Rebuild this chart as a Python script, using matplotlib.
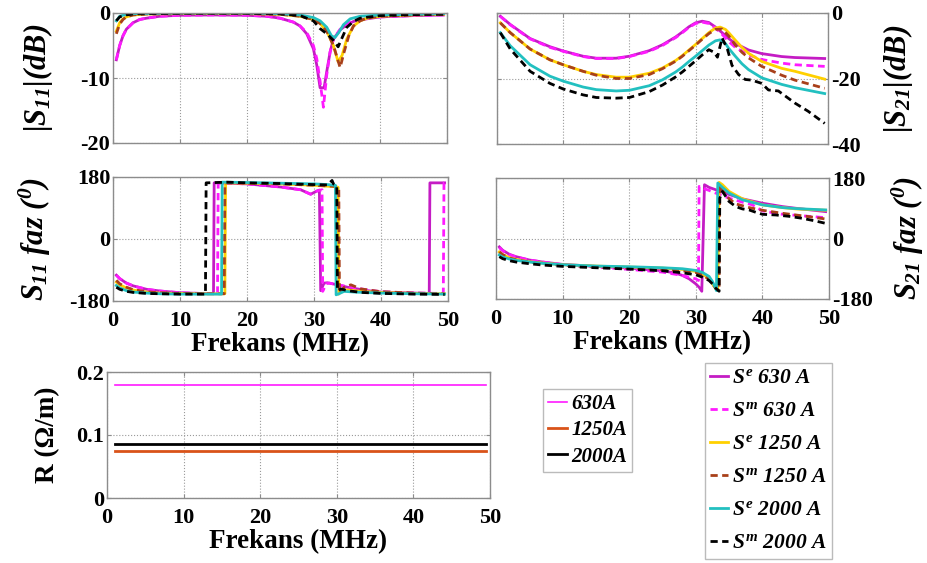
import matplotlib
matplotlib.use("Agg")
import matplotlib.pyplot as plt

plt.rcParams['font.family'] = ['Liberation Serif', 'DejaVu Serif']
plt.rcParams['font.weight'] = 'bold'
plt.rcParams['mathtext.fontset'] = 'custom'
plt.rcParams['mathtext.rm'] = 'Liberation Serif:italic:bold'
plt.rcParams['mathtext.it'] = 'Liberation Serif:italic:bold'
plt.rcParams['mathtext.bf'] = 'Liberation Serif:italic:bold'
plt.rcParams['axes.unicode_minus'] = False

# ---- |S11| (dB) ----
s11_pe_f = [0.5, 1, 1.5, 2, 3, 4, 5, 7, 10, 15, 20, 23, 25, 27, 28, 29, 30, 30.5, 31, 31.6, 32, 32.5, 33, 34, 35, 36, 38, 40, 45, 49.5]
s11_pe = [-7.2, -5, -3.5, -2.5, -1.5, -1.0, -0.8, -0.5, -0.35, -0.3, -0.35, -0.5, -0.8, -1.4, -2.0, -3.2, -5.5, -8, -11.5, -11.5, -9, -6, -4, -2.6, -1.8, -1.3, -0.9, -0.6, -0.4, -0.3]
s11_pm_f = [0.5, 1, 1.5, 2, 3, 4, 5, 7, 10, 15, 20, 23, 25, 27, 28, 29, 30, 30.5, 31, 31.5, 32, 32.5, 33, 34, 35, 36, 38, 40, 45, 49.5]
s11_pm = [-7.2, -5, -3.5, -2.5, -1.5, -1, -0.8, -0.5, -0.35, -0.3, -0.35, -0.5, -0.8, -1.4, -2, -3, -5, -7, -10.5, -14.5, -9.5, -6, -4, -2.5, -1.7, -1.2, -0.8, -0.6, -0.4, -0.3]
s11_ye_f = [0.5, 1, 1.5, 2, 3, 5, 10, 20, 25, 28, 30, 31, 32, 33, 33.7, 34.3, 35, 36, 37, 38, 40, 45, 49.5]
s11_ye = [-2.8, -1.5, -0.9, -0.6, -0.3, -0.15, -0.1, -0.1, -0.2, -0.5, -1, -1.6, -2.8, -5, -7.5, -6.5, -4, -2, -1.2, -0.8, -0.5, -0.3, -0.2]
s11_bm_f = [0.5, 1, 1.5, 2, 3, 5, 10, 20, 25, 28, 30, 31, 32, 33, 34, 34.6, 35.3, 36, 37, 38, 40, 45, 49.5]
s11_bm = [-3.2, -1.7, -1, -0.6, -0.3, -0.15, -0.1, -0.1, -0.2, -0.5, -1, -1.6, -2.8, -5, -8.4, -6, -3.5, -2, -1.2, -0.8, -0.5, -0.3, -0.2]
s11_ce_f = [0.5, 1, 2, 3, 10, 20, 25, 28, 30, 31, 32, 32.7, 33.2, 33.8, 34.5, 35.5, 37, 40, 45, 49.5]
s11_ce = [-1.2, -0.5, -0.2, -0.1, 0, 0, -0.1, -0.3, -0.7, -1.2, -2.2, -3.5, -3.8, -3, -1.8, -0.9, -0.5, -0.3, -0.2, -0.1]
s11_km_f = [0.5, 1, 2, 3, 10, 20, 25, 28, 30, 31, 32, 33, 33.7, 34.3, 35, 36, 37, 40, 45, 49.5]
s11_km = [-1.2, -0.6, -0.3, -0.15, -0.05, -0.05, -0.15, -0.4, -1.2, -2.4, -3.2, -4.2, -5.2, -3.8, -2.2, -1.3, -0.8, -0.4, -0.25, -0.2]

# ---- |S21| (dB) ----
s21_pe_f = [0.5, 2, 5, 8, 10, 13, 15, 18, 20, 23, 25, 27, 28, 29, 30, 31, 32, 33, 34, 35, 36, 38, 40, 43, 45, 49.5]
s21_pe = [-1, -3.5, -7.8, -10.3, -11.6, -13.2, -13.8, -13.8, -13.2, -11.5, -9.7, -7.3, -5.8, -4.2, -3.0, -2.5, -2.9, -4.3, -6, -7.8, -9.3, -11.3, -12.4, -13.3, -13.6, -13.9]
s21_pm_f = [0.5, 2, 5, 8, 10, 13, 15, 18, 20, 23, 25, 27, 28, 29, 30, 31, 32, 33, 34, 35, 36, 38, 40, 43, 45, 49.5]
s21_pm = [-1, -3.6, -7.9, -10.5, -11.7, -13.3, -13.9, -13.9, -13.3, -11.7, -9.9, -7.5, -6.0, -4.4, -3.2, -2.8, -3.2, -4.6, -6.5, -8.7, -10.5, -12.8, -14.2, -15.3, -15.8, -16.3]
s21_ye_f = [0.5, 2, 5, 8, 10, 13, 15, 18, 20, 23, 25, 27, 28, 29, 30, 31, 32, 33, 33.7, 34.5, 35, 36, 37, 38, 40, 43, 45, 49.5]
s21_ye = [-3, -6, -11, -14.3, -15.8, -17.8, -18.8, -19.6, -19.6, -18.4, -16.8, -14.5, -13, -11.3, -9.6, -7.8, -6, -4.6, -4.3, -5, -6, -8.3, -10.5, -12.3, -14.8, -16.9, -17.8, -20.2]
s21_bm_f = [0.5, 2, 5, 8, 10, 13, 15, 18, 20, 23, 25, 27, 28, 29, 30, 31, 32, 33, 34, 35, 36, 37, 38, 40, 43, 45, 49.5]
s21_bm = [-3, -6, -11, -14.3, -15.8, -17.8, -19, -20, -20, -18.8, -17, -14.7, -13.2, -11.5, -9.8, -8, -6.3, -5, -4.9, -7, -9.8, -12, -13.7, -16.3, -19, -20.5, -23]
s21_ce_f = [0.5, 2, 5, 8, 10, 13, 15, 18, 20, 23, 25, 27, 28, 29, 30, 31, 32, 33, 33.7, 34.5, 35, 36, 37, 38, 40, 43, 45, 49.5]
s21_ce = [-6, -10, -15.8, -19.3, -20.8, -22.6, -23.4, -23.8, -23.6, -22.2, -20.4, -18, -16.5, -14.8, -13.2, -11.5, -9.8, -8.5, -8.2, -9.3, -10.8, -13.2, -15.5, -17.3, -19.8, -21.8, -22.8, -24.6]
s21_km_f = [0.5, 2, 5, 8, 10, 13, 15, 18, 20, 23, 25, 27, 28, 29, 30, 31, 32, 32.8, 33.3, 34, 34.8, 35.5, 36.5, 37.5, 38.5, 40, 41, 42.5, 45, 47, 49.5]
s21_km = [-6, -11, -17.8, -21.5, -23.2, -25, -25.8, -26, -25.8, -24, -22, -19.5, -18, -16.3, -14.6, -12.8, -11.2, -12, -13.5, -7.6, -11, -16, -18.8, -20.3, -20.5, -21.5, -23.5, -23.8, -27.5, -30, -33.7]

# ---- S11 phase (deg) ----
p11_pe_f = [0.5, 1, 2, 3, 5, 7, 10, 13, 15, 15.1, 17, 20, 25, 28, 29.5, 30.3, 30.8, 31.0, 31.5, 32, 33, 35, 38, 40, 45, 47.2, 47.3, 49.5]
p11_pe = [-105, -115, -128, -136, -146, -151, -156, -158, -158, 163, 162, 160, 151, 143, 130, 138, 142, -150, -128, -127, -131, -140, -150, -154, -157, -158, 163, 163]
p11_pm_f = [0.5, 1, 2, 3, 5, 7, 10, 13, 15.6, 15.7, 17, 20, 25, 28, 29.5, 30.5, 31.2, 31.3, 31.8, 32.3, 33, 35, 38, 40, 45, 49.3, 49.4, 49.5]
p11_pm = [-105, -115, -128, -136, -146, -151, -156, -158, -158, 163, 162, 160, 151, 143, 130, 140, 143, -152, -130, -128, -131, -138, -148, -153, -157, -158, 163, 163]
p11_ye_f = [0.5, 1, 2, 3, 5, 7, 10, 13, 16.7, 16.8, 20, 25, 30, 33, 33.6, 33.7, 34, 35, 37, 40, 45, 49.5]
p11_ye = [-125, -133, -142, -148, -154, -157, -158, -159, -159, 163, 162, 160, 156, 152, 150, -160, -150, -148, -152, -155, -158, -159]
p11_bm_f = [0.5, 1, 2, 3, 5, 7, 10, 13, 16.6, 16.7, 20, 25, 30, 33, 33.7, 33.8, 34.5, 35.5, 37, 40, 45, 49.5]
p11_bm = [-120, -130, -140, -147, -153, -156, -158, -159, -159, 163, 162, 160, 156, 153, 150, -158, -140, -133, -145, -153, -157, -159]
p11_ce_f = [0.5, 1, 2, 3, 5, 7, 10, 13, 16.2, 16.3, 20, 25, 30, 32, 33.2, 33.3, 33.6, 34.5, 36, 40, 45, 49.5]
p11_ce = [-135, -142, -150, -154, -157, -159, -160, -160, -160, 165, 164, 162, 160, 158, 156, -162, -160, -152, -154, -157, -159, -160]
p11_km_f = [0.5, 1, 2, 3, 5, 7, 10, 12, 13.8, 13.9, 17, 20, 25, 30, 32, 32.7, 32.9, 33.4, 33.5, 34, 35, 37, 40, 45, 49.5]
p11_km = [-140, -146, -152, -155, -158, -159, -160, -160, -160, 163, 165, 163, 161, 158, 157, 170, 160, 155, -150, -145, -150, -155, -158, -160, -161]

# ---- S21 phase (deg) ----
p21_pe_f = [0.5, 1, 2, 3, 5, 7, 10, 15, 20, 25, 27, 28, 29, 30, 30.5, 30.9, 31.3, 32, 33, 35, 37, 40, 43, 45, 49.5]
p21_pe = [-25, -35, -47, -54, -64, -70, -77, -83, -88, -96, -103, -110, -120, -135, -145, -157, 160, 152, 145, 131, 118, 105, 95, 90, 80]
p21_pm_f = [0.5, 1, 2, 3, 5, 7, 10, 15, 20, 25, 28, 29, 30, 30.4, 30.5, 31, 32, 33, 35, 37, 38.5, 40, 43, 45, 49.5]
p21_pm = [-27, -37, -48, -55, -64, -70, -78, -85, -92, -100, -110, -115, -120, -125, 155, 150, 143, 135, 120, 108, 100, 82, 72, 69, 62]
p21_ye_f = [0.5, 1, 2, 3, 5, 7, 10, 15, 20, 25, 28, 30, 31, 32, 32.5, 33, 33.3, 33.5, 34, 35, 37, 40, 43, 45, 49.5]
p21_ye = [-40, -48, -57, -62, -69, -73, -78, -82, -85, -88, -92, -98, -105, -120, -135, -150, -153, 167, 160, 140, 118, 100, 92, 88, 84]
p21_bm_f = [0.5, 1, 2, 3, 5, 7, 10, 15, 20, 25, 28, 30, 31, 32, 32.5, 33, 33.5, 33.6, 34, 35, 36, 38, 40, 43, 45, 47, 49.5]
p21_bm = [-40, -48, -58, -63, -70, -75, -80, -85, -88, -92, -96, -101, -108, -122, -135, -148, -155, 160, 145, 118, 103, 92, 84, 75, 70, 65, 58]
p21_ce_f = [0.5, 1, 2, 3, 5, 7, 10, 15, 20, 25, 28, 30, 31, 32, 32.5, 32.9, 33.1, 33.3, 34, 35, 37, 40, 43, 45, 49.5]
p21_ce = [-49, -55, -61, -65, -70, -74, -78, -82, -84, -87, -90, -95, -101, -113, -128, -145, -155, 165, 152, 135, 115, 100, 92, 89, 85]
p21_km_f = [0.5, 1, 2, 3, 5, 7, 10, 15, 20, 25, 28, 30, 31, 32, 32.5, 33, 33.5, 33.6, 34, 35, 36, 37, 38, 39, 40, 42, 44, 46, 48, 49.5]
p21_km = [-54, -60, -66, -70, -75, -79, -83, -87, -91, -96, -102, -108, -115, -125, -135, -148, -157, 120, 140, 110, 95, 88, 85, 78, 72, 70, 66, 60, 52, 45]

# ---- R ----
r_f = [1, 49.5]
r_630 = [0.18, 0.18]
r_1250 = [0.074, 0.074]
r_2000 = [0.085, 0.085]

labels_S = [r'$S^e$ 630 A', r'$S^m$ 630 A', r'$S^e$ 1250 A', r'$S^m$ 1250 A', r'$S^e$ 2000 A', r'$S^m$ 2000 A']
labels_R = ['630A', '1250A', '2000A']

c_purple = '#c41cc4'
c_mag = '#ff1aff'
c_gold = '#ffd000'
c_brown = '#a8401a'
c_cyan = '#22c0c0'
c_black = '#000000'
c_orange = '#d95319'

styles = [(c_purple, '-'), (c_mag, '--'), (c_gold, '-'), (c_brown, '--'), (c_cyan, '-'), (c_black, '--')]

W, H = 927, 563
fig = plt.figure(figsize=(W / 100, H / 100), dpi=100)


def px_axes(x0, y0, x1, y1):
    return fig.add_axes([x0 / W, 1 - y1 / H, (x1 - x0) / W, (y1 - y0) / H])


def style_ax(ax):
    for sp in ax.spines.values():
        sp.set_color('#8c8c8c')
        sp.set_linewidth(1)
    ax.grid(True, linestyle=':', color='#9a9a9a', linewidth=0.8)
    ax.tick_params(direction='in', length=3, labelsize=16, color='#8c8c8c',
                   top=True, right=True, pad=2)
    ax.tick_params(axis='x', pad=7)
    ax.set_xlim(0, 50)
    ax.set_xticks([0, 10, 20, 30, 40, 50])


def draw(ax, series):
    lines = []
    for (f, v), (c, ls) in zip(series, styles):
        if ls == '--':
            ln, = ax.plot(f, v, color=c, lw=2, dashes=(2.6, 1.6))
        else:
            ln, = ax.plot(f, v, color=c, lw=2)
        lines.append(ln)
    return lines


lab_font = dict(fontsize=22, fontstyle='italic', fontweight='bold')
xl_font = dict(fontsize=19.5, fontweight='bold')

# top left
ax1 = px_axes(113, 13, 447, 143)
style_ax(ax1)
s_lines = draw(ax1, [(s11_pe_f, s11_pe), (s11_pm_f, s11_pm), (s11_ye_f, s11_ye),
                     (s11_bm_f, s11_bm), (s11_ce_f, s11_ce), (s11_km_f, s11_km)])
ax1.set_ylim(-20, 0)
ax1.set_yticks([-20, -10, 0])
ax1.set_xticklabels([])
ax1.set_ylabel(r'$|S_{11}|(dB)$', labelpad=18, **lab_font)

# top right
ax2 = px_axes(497, 13, 828, 144)
style_ax(ax2)
draw(ax2, [(s21_pe_f, s21_pe), (s21_pm_f, s21_pm), (s21_ye_f, s21_ye),
           (s21_bm_f, s21_bm), (s21_ce_f, s21_ce), (s21_km_f, s21_km)])
ax2.set_ylim(-40, 0)
ax2.set_yticks([-40, -20, 0])
ax2.set_xticklabels([])
ax2.yaxis.tick_right()
ax2.tick_params(left=True, labelleft=False, labelright=True)
ax2.yaxis.set_label_position('right')
ax2.set_ylabel(r'$|S_{21}|(dB)$', labelpad=15, **lab_font)

# middle left
ax3 = px_axes(113, 177, 448, 301)
style_ax(ax3)
draw(ax3, [(p11_pe_f, p11_pe), (p11_pm_f, p11_pm), (p11_ye_f, p11_ye),
           (p11_bm_f, p11_bm), (p11_ce_f, p11_ce), (p11_km_f, p11_km)])
ax3.set_ylim(-180, 180)
ax3.set_yticks([-180, 0, 180])
ax3.set_ylabel(r'$S_{11}$ faz ($^0$)', labelpad=12, **lab_font)
ax3.set_xlabel('Frekans (MHz)', labelpad=1, **xl_font)

# middle right
ax4 = px_axes(496, 178, 829, 299)
style_ax(ax4)
draw(ax4, [(p21_pe_f, p21_pe), (p21_pm_f, p21_pm), (p21_ye_f, p21_ye),
           (p21_bm_f, p21_bm), (p21_ce_f, p21_ce), (p21_km_f, p21_km)])
ax4.set_ylim(-180, 180)
ax4.set_yticks([-180, 0, 180])
ax4.yaxis.tick_right()
ax4.tick_params(left=True, labelleft=False, labelright=True)
ax4.yaxis.set_label_position('right')
ax4.set_ylabel(r'$S_{21}$ faz ($^0$)', labelpad=12, **lab_font)
ax4.set_xlabel('Frekans (MHz)', labelpad=1, **xl_font)

# bottom R
ax5 = px_axes(107, 372, 490, 498)
style_ax(ax5)
l630, = ax5.plot(r_f, r_630, color=c_mag, lw=1.2)
l1250, = ax5.plot(r_f, r_1250, color=c_orange, lw=2)
l2000, = ax5.plot(r_f, r_2000, color=c_black, lw=2)
ax5.set_ylim(0, 0.2)
ax5.set_yticks([0, 0.1, 0.2])
ax5.set_yticklabels(['0', '0.1', '0.2'])
ax5.set_ylabel('R (\u03a9/m)', fontsize=19.5, fontweight='bold', labelpad=12)
ax5.set_xlabel('Frekans (MHz)', labelpad=1, **xl_font)

leg1 = fig.legend([l630, l1250, l2000], labels_R, loc='upper left',
                  bbox_to_anchor=(543 / W, 1 - 389 / H),
                  prop=dict(size=15, style='italic', weight='bold'),
                  frameon=True, fancybox=False, edgecolor='#aaaaaa',
                  handlelength=0.9, handletextpad=0.2, labelspacing=0.3,
                  borderpad=0.25, borderaxespad=0)
leg1.get_frame().set_linewidth(1)
leg2 = fig.legend(s_lines, labels_S, loc='upper left',
                  bbox_to_anchor=(705 / W, 1 - 363 / H),
                  prop=dict(size=15.5, style='italic', weight='bold'),
                  frameon=True, fancybox=False, edgecolor='#aaaaaa',
                  handlelength=0.8, handletextpad=0.2, labelspacing=0.6,
                  borderpad=0.25, borderaxespad=0)
leg2.get_frame().set_linewidth(1)

fig.savefig('out.png', dpi=100)
